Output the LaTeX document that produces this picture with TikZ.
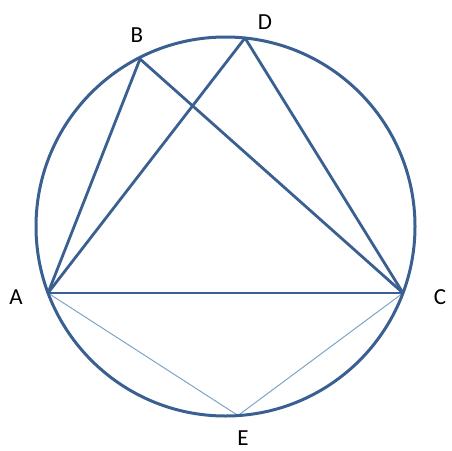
\documentclass[tikz,border=0pt]{standalone}
\usepackage{fontspec}
\setmainfont{Carlito}
\usepackage{tikz}
\usetikzlibrary{positioning, calc}
\definecolor{rimblue}{RGB}{58,96,146}
\definecolor{paleblue}{RGB}{125,165,200}
\tikzstyle{rim} = [line width=3pt, draw=rimblue]
\tikzstyle{chord} = [line width=2.8pt, draw=rimblue, line join=round]
\tikzstyle{thinchord} = [line width=1pt, draw=paleblue]
\tikzstyle{vlabel} = [font=\fontsize{23}{26}\selectfont, text=black, inner sep=0pt]

\begin{document}
\begin{tikzpicture}[x=1pt, y=-1pt]
  \useasboundingbox (0,0) rectangle (452,450);
  \coordinate (O) at (225.5,226.5);
  \coordinate (A) at (48,293);
  \coordinate (B) at (140,59);
  \coordinate (C) at (403,293);
  \coordinate (D) at (245,38);
  \coordinate (E) at (238,415.5);

  \node[vlabel] (labA) at (16,297) {A};
  \node[vlabel] (labB) at (137,35) {B};
  \node[vlabel] (labC) at (440,297) {C};
  \node[vlabel] (labD) at (265,22) {D};
  \node[vlabel] (labE) at (243,438) {E};

  \draw[thinchord] (A) -- (E) -- (C);
  \draw[chord] (A) -- (B) -- (C);
  \draw[chord] (A) -- (D) -- (C);
  \draw[chord] (A) -- (C);
  \draw[rim] (O) circle (189.5);
\end{tikzpicture}
\end{document}
